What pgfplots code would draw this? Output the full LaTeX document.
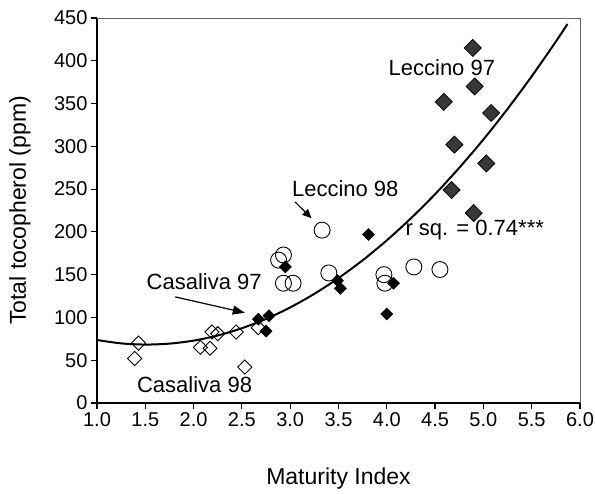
\documentclass[border=0pt]{standalone}
\usepackage{pgfplots}
\pgfplotsset{compat=1.18}
\usepackage{fontspec}
\setmainfont{Liberation Sans}
\usetikzlibrary{arrows.meta}
\begin{document}
\begin{tikzpicture}
\begin{axis}[
  scale only axis, width=483pt, height=385pt,
  xmin=1, xmax=6, ymin=0, ymax=450,
  xtick={1,1.5,...,6}, ytick={0,50,...,450},
  axis lines=left, axis line style={-, line width=1.3pt, black},
  tick align=outside, major tick length=6pt, tick style={black, line width=1.2pt},
  /pgf/number format/assume math mode=true,
  xticklabel style={font=\fontsize{20}{24}\selectfont, /pgf/number format/.cd, fixed, fixed zerofill, precision=1},
  yticklabel style={font=\fontsize{20}{24}\selectfont},
  xlabel={Maturity Index}, ylabel={Total tocopherol (ppm)},
  label style={font=\fontsize{23}{27}\selectfont},
  x label style={at={([yshift=-76pt]axis description cs:0.5,0)}, anchor=center},
  y label style={at={([xshift=-77pt]axis description cs:0,0.5)}, anchor=center},
  clip=false,
]
\draw[black!60, line width=0.8pt] (rel axis cs:0,1) -- (rel axis cs:1,1) -- (rel axis cs:1,0);
% fitted curve
\addplot[black, line width=2pt, smooth] coordinates {
 (1.0,73.6) (1.25,69.7) (1.5,68.3) (1.75,69.4) (2.0,72.9) (2.25,78.9) (2.5,87.4)
 (2.75,98.3) (3.0,111.7) (3.25,127.6) (3.5,146.0) (3.75,166.8) (4.0,190.1)
 (4.25,215.9) (4.5,244.1) (4.75,274.9) (5.0,308.0) (5.25,343.7) (5.5,381.8)
 (5.75,422.4) (5.87,443.0)};
% Casaliva 98
\addplot[only marks, mark=square, mark size=5pt, mark options={rotate=45, line width=0.9pt, black}] coordinates {
 (1.43,70) (1.39,52) (2.07,65) (2.17,64) (2.19,83) (2.25,81) (2.44,83) (2.53,42) (2.67,88)};
% Leccino 98
\addplot[only marks, mark=o, mark size=8pt, mark options={line width=0.9pt, black}] coordinates {
 (3.33,202) (2.93,173) (2.88,167) (2.93,140) (3.03,140) (3.40,152) (3.97,150) (3.98,140) (4.28,159) (4.55,156)};
% Casaliva 97
\addplot[only marks, mark=square*, mark size=4.2pt, mark options={rotate=45, line width=0.6pt, black, fill=black}] coordinates {
 (2.67,98) (2.78,102) (2.75,84) (2.95,159) (3.49,143) (3.52,134) (3.81,197) (4.00,104) (4.07,140)};
% Leccino 97
\addplot[only marks, mark=square*, mark size=6pt, mark options={rotate=45, line width=0.8pt, draw=black, fill=black!78}] coordinates {
 (4.89,415) (4.91,370) (4.59,352) (5.08,339) (4.70,302) (5.03,280) (4.67,249) (4.90,222)};
\node[font=\fontsize{22}{26}\selectfont] at (axis cs:4.57,391.5) {Leccino 97};
\node[font=\fontsize{22}{26}\selectfont] at (axis cs:3.57,251) {Leccino 98};
\node[font=\fontsize{22}{26}\selectfont] at (axis cs:4.91,202) {r sq. = 0.74***};
\node[font=\fontsize{22}{26}\selectfont] at (axis cs:2.11,142) {Casaliva 97};
\node[font=\fontsize{22}{26}\selectfont] at (axis cs:2.01,21) {Casaliva 98};
\draw[line width=1.2pt, -{Triangle[length=9pt,width=8pt]}] (axis cs:3.05,235) -- (axis cs:3.22,216);
\draw[line width=1.2pt, -{Triangle[length=12pt,width=9pt]}] (axis cs:1.81,124) -- (axis cs:2.53,105.5);
\end{axis}
\pgfresetboundingbox
\path[use as bounding box] (-97pt,-91pt) rectangle (498pt,403pt);
\end{tikzpicture}
\end{document}
